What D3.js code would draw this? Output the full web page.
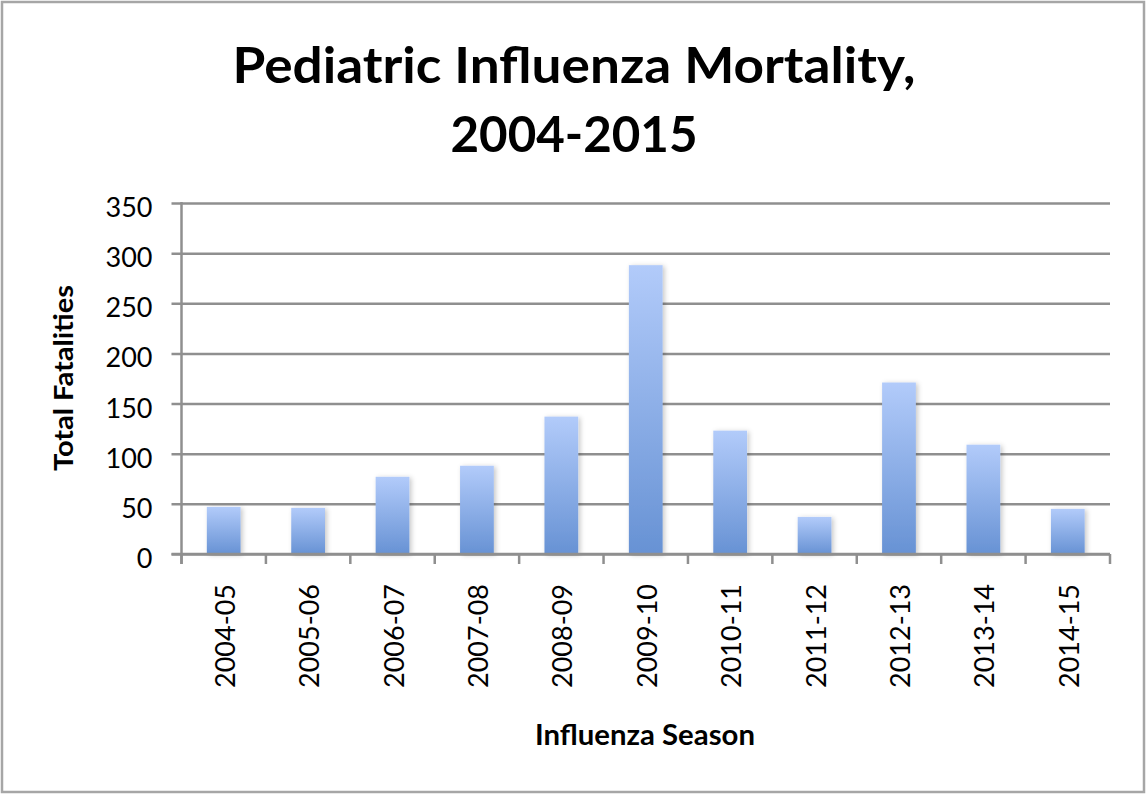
<!DOCTYPE html>
<html><head><meta charset="utf-8">
<script src="https://cdnjs.cloudflare.com/ajax/libs/d3/7.8.5/d3.min.js"></script>
<style>body{margin:0;background:#fff}svg{display:block}text{font-family:Lato,"Open Sans",sans-serif}</style>
</head><body>
<script>
const seasons = ["2004-05","2005-06","2006-07","2007-08","2008-09","2009-10","2010-11","2011-12","2012-13","2013-14","2014-15"];
const fatalities = [47,46,77,88,137,288,123,37,171,109,45];
const yTicks = [0,50,100,150,200,250,300,350];
const titleLines = ["Pediatric Influenza Mortality,","2004-2015"];
const xTitle = "Influenza Season";
const yTitle = "Total Fatalities";

const W = 1147, H = 795;
const L = 181.5, R = 1110, T = 203, B = 554;
const svg = d3.select("body").append("svg").attr("width", W).attr("height", H);

const defs = svg.append("defs");
const g = defs.append("linearGradient").attr("id","barGrad").attr("x1",0).attr("y1",0).attr("x2",0).attr("y2",1);
g.append("stop").attr("offset","0%").attr("stop-color","#b2cbfa");
g.append("stop").attr("offset","100%").attr("stop-color","#6792d4");
const f = defs.append("filter").attr("id","shadow").attr("x","-30%").attr("y","-10%").attr("width","160%").attr("height","130%");
f.append("feDropShadow").attr("dx",2).attr("dy",1).attr("stdDeviation",2.5).attr("flood-color","#000").attr("flood-opacity",0.22);

svg.append("rect").attr("x",2).attr("y",2).attr("width",W-5).attr("height",H-5)
  .attr("fill","#fff").attr("stroke","#a6a6a6").attr("stroke-width",2.5);

const x = d3.scaleBand().domain(seasons).range([L,R]).paddingInner(0.6).paddingOuter(0.3);
const y = d3.scaleLinear().domain([0,350]).range([B,T]);

// gridlines + y axis
const yAxis = d3.axisLeft(y).tickValues(yTicks).tickSize(-(R-L)).tickSizeOuter(0).tickPadding(29);
const ya = svg.append("g").attr("transform",`translate(${L},0)`).call(yAxis);
ya.select(".domain").remove();
ya.selectAll(".tick line").attr("stroke","#8f8f8f").attr("stroke-width",2.5).attr("x1",-10);
ya.selectAll(".tick text").attr("font-size",27).attr("fill","#000").attr("font-family","Lato").attr("dy","0.5em");

// bars
svg.append("g").selectAll("rect").data(seasons).join("rect")
  .attr("x", d => x(d)).attr("width", x.bandwidth())
  .attr("y", (d,i) => y(fatalities[i])).attr("height", (d,i) => B - y(fatalities[i]))
  .attr("fill","url(#barGrad)").attr("filter","url(#shadow)");

// y axis vertical line
svg.append("line").attr("x1",L).attr("x2",L).attr("y1",T-1).attr("y2",B+10)
  .attr("stroke","#8f8f8f").attr("stroke-width",2.5);
// x axis line
svg.append("line").attr("x1",L-10).attr("x2",R).attr("y1",B).attr("y2",B)
  .attr("stroke","#8f8f8f").attr("stroke-width",2.5);
// x ticks at category boundaries
const bounds = seasons.map(s => x(s) - x.step()*0.3).concat([R]);
svg.append("g").selectAll("line").data(bounds).join("line")
  .attr("x1",d=>d).attr("x2",d=>d).attr("y1",B).attr("y2",B+10)
  .attr("stroke","#8f8f8f").attr("stroke-width",2.5);

// x labels rotated
svg.append("g").selectAll("text").data(seasons).join("text")
  .attr("transform", d => `translate(${x(d)+x.bandwidth()/2+11},584) rotate(-90)`)
  .attr("text-anchor","end").attr("font-size",27).attr("fill","#000").text(d=>d);

// titles
const titleLens = [683, 247];
svg.append("g").selectAll("text").data(titleLines).join("text")
  .attr("x",574).attr("y",(d,i)=>83+i*69).attr("text-anchor","middle")
  .attr("textLength",(d,i)=>titleLens[i]).attr("lengthAdjust","spacingAndGlyphs")
  .attr("font-size",49).attr("font-weight","bold").attr("fill","#000").text(d=>d);

svg.append("text").attr("x",645).attr("y",745).attr("text-anchor","middle")
  .attr("textLength",220).attr("lengthAdjust","spacingAndGlyphs")
  .attr("font-size",28).attr("font-weight","bold").text(xTitle);
svg.append("text").attr("transform","translate(73,378) rotate(-90)").attr("text-anchor","middle")
  .attr("textLength",186).attr("lengthAdjust","spacingAndGlyphs")
  .attr("font-size",27).attr("font-weight","bold").text(yTitle);
</script>
</body></html>
